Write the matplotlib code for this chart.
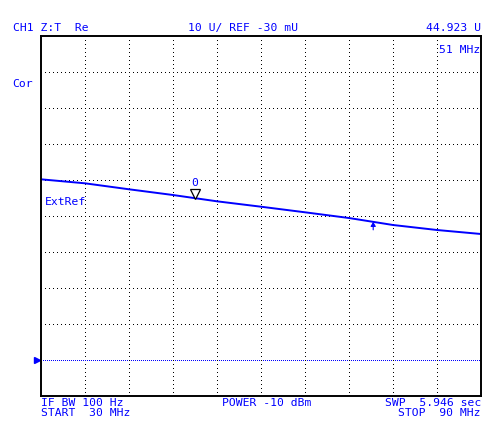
import matplotlib
matplotlib.use('Agg')
import matplotlib.pyplot as plt
import numpy as np
from matplotlib.transforms import offset_copy

freq_mhz = [30, 36, 42, 48, 54, 60, 66, 72, 78, 84, 90]
real_u = [50.16, 49.05, 47.39, 45.80, 44.05, 42.55, 41.00, 39.41, 37.47, 36.08, 34.97]

# Scale settings
start_mhz, stop_mhz = 30, 90
scale_per_div = 10
ref_value = -0.03
ref_div_from_bottom = 1
n_div = 10

# Markers
marker_freq = 51
marker_value = 44.923
arrow_freq = 75.3

W, H = 493, 428
BLUE = '#0000ff'
FONT = 'DejaVu Sans Mono'
FS = 8.2

fig = plt.figure(figsize=(W / 100, H / 100), dpi=100)
ax = fig.add_axes([41 / W, (H - 396) / H, 440 / W, 360 / H])

ybot = ref_value - ref_div_from_bottom * scale_per_div
ytop = ybot + n_div * scale_per_div
ax.set_xlim(start_mhz, stop_mhz)
ax.set_ylim(ybot, ytop)

# dotted grid
xstep = (stop_mhz - start_mhz) / n_div
for i in range(1, n_div):
    ax.axvline(start_mhz + i * xstep, color='black', lw=0.72, ls=(0, (1, 3)),
               antialiased=False)
    yv = ybot + i * scale_per_div
    if i == ref_div_from_bottom:
        ax.axhline(yv, color=BLUE, lw=0.72, ls=(0, (1, 2)), antialiased=False)
    else:
        ax.axhline(yv, color='black', lw=0.72, ls=(0, (1, 3)), antialiased=False)

# trace
ax.plot(freq_mhz, real_u, color=BLUE, lw=1.4, solid_capstyle='butt')

# marker 0
tri = offset_copy(ax.transData, fig=fig, x=0, y=4, units='dots')
ax.plot([marker_freq], [marker_value], marker='v', ms=6.5, mfc='white',
        mec='black', mew=0.9, transform=tri, clip_on=False)
lab = offset_copy(ax.transData, fig=fig, x=0, y=12, units='dots')
ax.text(marker_freq, marker_value, '0', transform=lab, color=BLUE, fontsize=FS,
        family=FONT, ha='center', va='baseline')

# small arrow below trace
y_arrow = float(np.interp(arrow_freq, freq_mhz, real_u))
ax.annotate('', xy=(arrow_freq, y_arrow), xytext=(0, -8), textcoords='offset pixels',
            arrowprops=dict(arrowstyle='-|>,head_width=0.15,head_length=0.25',
                            color=BLUE, lw=0.8, shrinkA=0, shrinkB=0))

# reference position triangle
reft = offset_copy(ax.transData, fig=fig, x=-4, y=0, units='dots')
ax.plot([start_mhz], [ref_value], marker='>', ms=5, color=BLUE, transform=reft,
        clip_on=False)

ax.set_xticks([])
ax.set_yticks([])
for s in ax.spines.values():
    s.set_color('black')
    s.set_linewidth(1.4)


def txt(x, y, s, ha='left'):
    fig.text(x / W, 1 - y / H, s, color=BLUE, fontsize=FS, family=FONT,
             ha=ha, va='baseline')


txt(13, 31, 'CH1 Z:T  Re')
txt(243, 31, '10 U/ REF -30 mU', ha='center')
txt(481, 31, '44.923 U', ha='right')
txt(480, 53, '51 MHz', ha='right')
txt(12, 87, 'Cor')
txt(45, 205, 'ExtRef')
txt(41, 406, 'IF BW 100 Hz')
txt(41, 416, 'START  30 MHz')
txt(222, 406, 'POWER -10 dBm')
txt(481, 406, 'SWP  5.946 sec', ha='right')
txt(481, 416, 'STOP  90 MHz', ha='right')

fig.savefig('out.png', dpi=100, facecolor='white')
